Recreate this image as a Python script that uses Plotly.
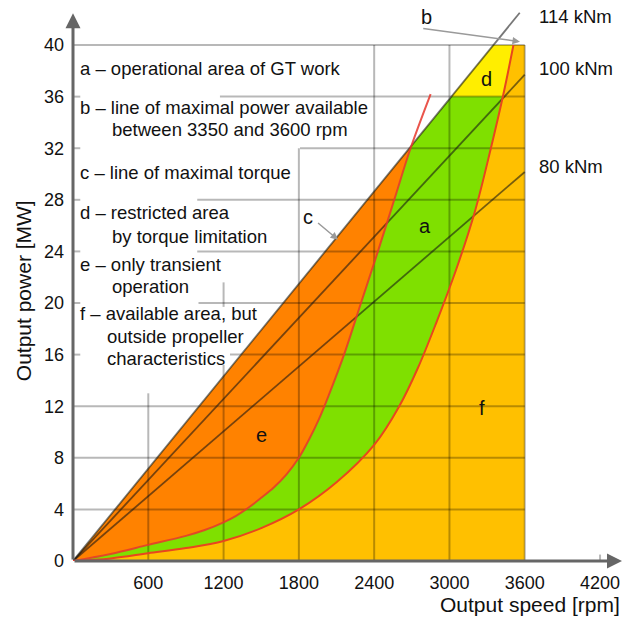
import numpy as np
import plotly.graph_objects as go

# ---- data -------------------------------------------------------------
# propeller curve bounding the operational area from below/right  [rpm], [MW]
speed_L = [0, 300, 600, 900, 1200, 1500, 1800, 2100, 2400, 2600, 2750, 2900, 3050, 3200, 3330, 3430, 3510]
power_L = [0, 0.2, 0.6, 1.0, 1.55, 2.55, 4.0, 6.1, 9.0, 12.0, 15.0, 18.6, 22.5, 27.0, 32.0, 36.2, 40.0]

# propeller curve bounding the operational area from above/left  [rpm], [MW]
speed_M = [0, 300, 600, 900, 1050, 1200, 1300, 1400, 1500, 1600, 1700, 1800, 1880, 1960, 2040,
           2160, 2295, 2430, 2560, 2690, 2850]
power_M = [0, 0.55, 1.25, 1.95, 2.4, 3.0, 3.5, 4.15, 4.9, 5.7, 6.7, 8.0, 9.4, 11.0, 12.9,
           16.0, 20.0, 24.0, 28.0, 32.0, 36.2]

# constant torque lines
torque_kNm = [114, 100, 80]
torque_end_rpm = [3560, 3600, 3600]
torque_labels = ["114 kNm", "100 kNm", "80 kNm"]

P_max = 40          # MW, line b
n_max = 3600        # rpm
P_torque_limit = 36 # MW, lower edge of area d

x_ticks = [600, 1200, 1800, 2400, 3000, 3600, 4200]
y_ticks = [0, 4, 8, 12, 16, 20, 24, 28, 32, 36, 40]

legend_lines = [
    ("a – operational area of GT work", 42, 38.19),
    ("b – line of maximal power available", 42, 35.17),
    ("between 3350 and 3600 rpm", 295, 33.47),
    ("c – line of maximal torque", 42, 30.10),
    ("d – restricted area", 42, 26.98),
    ("by torque limitation", 295, 25.14),
    ("e – only transient", 42, 22.95),
    ("operation", 295, 21.26),
    ("f – available area, but", 42, 19.20),
    ("outside propeller", 255, 17.39),
    ("characteristics", 255, 15.71),
]

region_labels = [("a", 2805, 26.0), ("d", 3297, 37.4), ("e", 1504, 9.8),
                 ("f", 3259, 11.9), ("c", 1875, 26.7), ("b", 2818, 42.2)]

# visible parts of the grid (lines are interrupted behind the legend text)
h_grid_start = [0, 0, 0, 1251, 1000, 990, 990, 1809, 1171, 0]   # for y = 4 ... 40
v_grid_segments = {600: [(0, 13.0)], 1200: [(0, 15.2), (19.7, 21.6)],
                   1800: [(0, 32)], 2400: [(0, 40)], 3000: [(0, 40)], 3600: [(0, 40)],
                   4200: [(0, 0.5)]}

FONT = "Liberation Sans, Arial, sans-serif"


def torque_power(T, n):
    """Power in MW for torque T [kNm] at speed n [rpm]."""
    return T * np.asarray(n, dtype=float) * 2 * np.pi / 60 / 1000


T_c = torque_kNm[0]
n40 = float(P_max / torque_power(T_c, 1))
n36c = float(P_torque_limit / torque_power(T_c, 1))

fig = go.Figure()
edge = dict(width=0, shape="spline")

# ---- filled areas -----------------------------------------------------
# f: whole available field below the maximal torque / maximal power lines
fig.add_trace(go.Scatter(x=[0, n40, n_max, n_max, 0], y=[0, P_max, P_max, 0, 0],
                         fill="toself", fillcolor="#FFC000", mode="none", hoverinfo="skip"))

# a: between the torque/power limit and the lower propeller curve
fig.add_trace(go.Scatter(x=[0, n40, speed_L[-1]], y=[0, P_max, P_max], mode="lines",
                         line=dict(width=0), hoverinfo="skip"))
fig.add_trace(go.Scatter(x=speed_L, y=power_L, mode="lines", line=edge, fill="tonexty",
                         fillcolor="#7FE000", hoverinfo="skip"))

# e: between the maximal torque line and the upper propeller curve
fig.add_trace(go.Scatter(x=[0, speed_M[-1]], y=[0, float(torque_power(T_c, speed_M[-1]))],
                         mode="lines", line=dict(width=0), hoverinfo="skip"))
fig.add_trace(go.Scatter(x=speed_M, y=power_M, mode="lines", line=edge, fill="tonexty",
                         fillcolor="#FF8200", hoverinfo="skip"))

# nothing is available above the maximal torque line
fig.add_trace(go.Scatter(x=[0, n40, 0, 0], y=[0, P_max, P_max, 0], fill="toself",
                         fillcolor="white", mode="none", hoverinfo="skip"))

# d: above 36 MW inside the operational area
nL36 = float(np.interp(P_torque_limit, power_L, speed_L))
top_L = [(n, p) for n, p in zip(speed_L, power_L) if p > P_torque_limit][::-1]
fig.add_trace(go.Scatter(x=[n36c, n40] + [t[0] for t in top_L] + [nL36],
                         y=[P_torque_limit, P_max] + [t[1] for t in top_L] + [P_torque_limit],
                         fill="toself", fillcolor="#FFEE00", mode="none", hoverinfo="skip"))

# ---- grid -------------------------------------------------------------
gx, gy = [], []
for yv, xs in zip(y_ticks[1:], h_grid_start):
    if xs > 0:
        gx += [0, 58, None]
        gy += [yv, yv, None]
    gx += [xs, n_max, None]
    gy += [yv, yv, None]
for xv, segs in v_grid_segments.items():
    for y0, y1 in segs:
        gx += [xv, xv, None]
        gy += [y0, y1, None]
fig.add_trace(go.Scatter(x=gx, y=gy, mode="lines", hoverinfo="skip",
                         line=dict(color="rgba(0,0,0,0.28)", width=2)))

# ---- constant torque lines -------------------------------------------
for T, n_end in zip(torque_kNm, torque_end_rpm):
    fig.add_trace(go.Scatter(x=[0, n_end], y=[0, float(torque_power(T, n_end))], mode="lines",
                             hoverinfo="skip", line=dict(color="rgba(20,20,20,0.58)", width=1.8)))

# ---- propeller curves -------------------------------------------------
fig.add_trace(go.Scatter(x=speed_L, y=power_L, mode="lines", hoverinfo="skip",
                         line=dict(color="rgb(232,70,30)", width=2, shape="spline")))
fig.add_trace(go.Scatter(x=speed_M, y=power_M, mode="lines", hoverinfo="skip",
                         line=dict(color="rgba(230,55,45,0.85)", width=2, shape="spline")))

ann = []
# axes with arrows
ann.append(dict(x=4375, y=0, ax=0, ay=0, xref="x", yref="y", axref="x", ayref="y", text="",
                showarrow=True, arrowhead=2, arrowsize=1, arrowwidth=3, arrowcolor="#666666"))
ann.append(dict(x=0, y=42.46, ax=0, ay=0, xref="x", yref="y", axref="x", ayref="y", text="",
                showarrow=True, arrowhead=2, arrowsize=1, arrowwidth=3, arrowcolor="#666666"))
# pointers for b and c
ann.append(dict(x=3562, y=40.26, ax=2779, ay=41.3, xref="x", yref="y", axref="x", ayref="y",
                text="", showarrow=True, arrowhead=2, arrowsize=1, arrowwidth=1.5,
                arrowcolor="#9a9a9a"))
ann.append(dict(x=2112, y=24.9, ax=1941, ay=26.3, xref="x", yref="y", axref="x", ayref="y",
                text="", showarrow=True, arrowhead=2, arrowsize=1, arrowwidth=1.5,
                arrowcolor="#9a9a9a"))

for txt, xv, yv in legend_lines:
    ann.append(dict(x=xv, y=yv, xref="x", yref="y", text=txt, showarrow=False,
                    xanchor="left", yanchor="middle", font=dict(size=18.5, color="#111", family=FONT)))
for txt, xv, yv in region_labels:
    ann.append(dict(x=xv, y=yv, xref="x", yref="y", text=txt, showarrow=False,
                    xanchor="center", yanchor="middle", font=dict(size=20, color="#111", family=FONT)))
for txt, T in zip(torque_labels, torque_kNm):
    y_lab = min(float(torque_power(T, n_max)) + 0.45, 42.2)
    ann.append(dict(x=3700, y=y_lab, xref="x", yref="y", text=txt,
                    showarrow=False, xanchor="left", yanchor="middle",
                    font=dict(size=18.5, color="#111", family=FONT)))

# axis titles
ann.append(dict(x=1.0, y=-0.077, xref="paper", yref="paper", text="Output speed [rpm]",
                showarrow=False, xanchor="right", yanchor="middle",
                font=dict(size=21, color="#111", family=FONT)))
ann.append(dict(x=-0.091, y=0.481, xref="paper", yref="paper", text="Output power [MW]",
                showarrow=False, xanchor="center", yanchor="middle", textangle=-90,
                font=dict(size=21, color="#111", family=FONT)))

fig.update_layout(
    width=630, height=617, template="none",
    margin=dict(l=73, r=8, t=0, b=56, autoexpand=False),
    paper_bgcolor="white", plot_bgcolor="white", showlegend=False,
    font=dict(family=FONT, size=18, color="#111"),
    annotations=ann,
    xaxis=dict(range=[0, 4375], showgrid=False, zeroline=False, showline=False,
               tickvals=x_ticks, ticks="", ticklabelstandoff=9, automargin=False,
               tickfont=dict(size=18, family=FONT, color="#111")),
    yaxis=dict(range=[0, 43.49], showgrid=False, zeroline=False, showline=False,
               tickvals=y_ticks, ticks="", ticklabelstandoff=8, automargin=False,
               tickfont=dict(size=18, family=FONT, color="#111")),
)

fig.write_html("out.html")
